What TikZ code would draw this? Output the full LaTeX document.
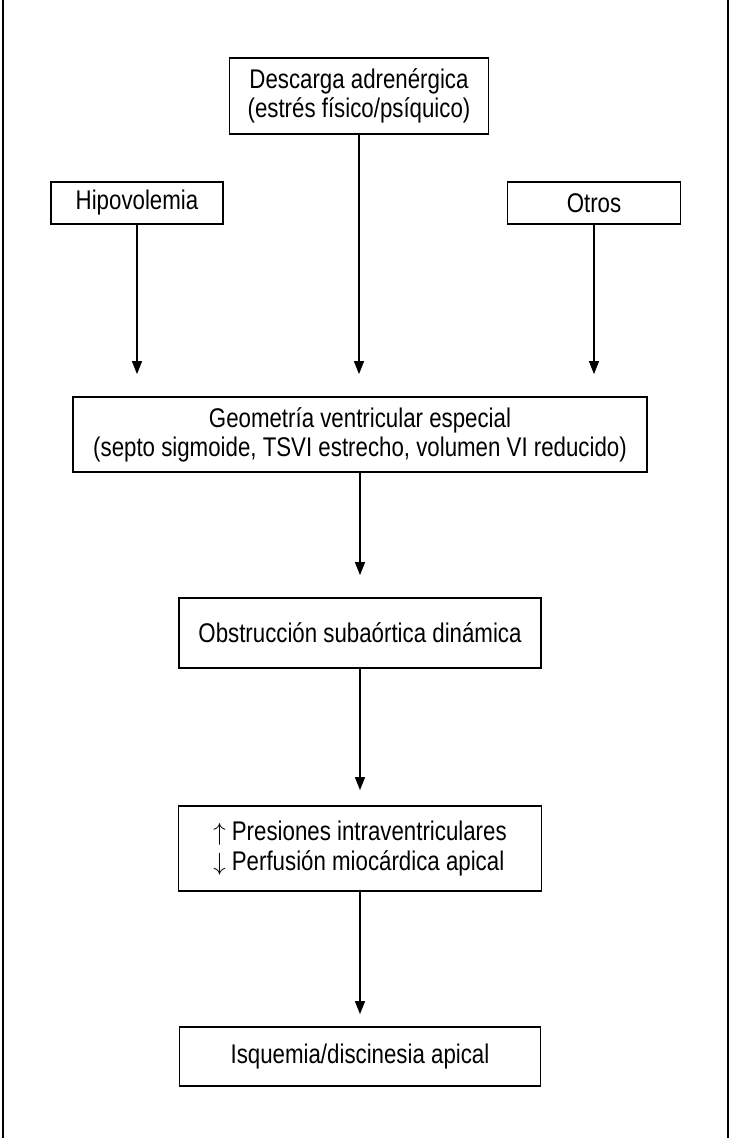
\documentclass[tikz,border=0pt]{standalone}
\usepackage{fontspec}
\setmainfont{Liberation Sans}[FakeStretch=0.825]
\usetikzlibrary{arrows.meta}

\begin{document}
\begin{tikzpicture}[x=1pt, y=-1pt,
  box/.style={draw, line width=1.7pt, inner sep=0pt, align=center,
    font=\fontsize{27}{29}\selectfont},
  arr/.style={line width=1.2pt, -{Triangle[length=13pt,width=10pt]}}]
\useasboundingbox (0,0) rectangle (730,1138);

% frame
\draw[line width=1.7pt] (3,0) -- (3,1138);
\draw[line width=1.7pt] (728,0) -- (728,1138);

\node[box, minimum width=259pt, minimum height=76pt] (desc) at (359,96)
  {Descarga adrenérgica\\(estrés físico/psíquico)};
\node[box, minimum width=172pt, minimum height=42pt] (hipo) at (137,203) {Hipovolemia};
\node[box, minimum width=173pt, minimum height=42pt] (otros) at (594,203) {Otros};
\node[box, minimum width=574pt, minimum height=75pt] (geom) at (360,434.5)
  {Geometría ventricular especial\\(septo sigmoide, TSVI estrecho, volumen VI reducido)};
\node[box, minimum width=362pt, minimum height=70pt] (obst) at (360,633)
  {Obstrucción subaórtica dinámica};
\node[box, minimum width=363pt, minimum height=85pt, align=left] (pres) at (360,848.5)
  {$\uparrow$ Presiones intraventriculares\\[1pt]$\downarrow$ Perfusión miocárdica apical};
\node[box, minimum width=361pt, minimum height=59pt] (isq) at (360,1056.5)
  {Isquemia/discinesia apical};

\draw[arr, shorten >=22pt] (hipo) -- (hipo |- geom.north);
\draw[arr, shorten >=22pt] (desc) -- (desc |- geom.north);
\draw[arr, shorten >=22pt] (otros) -- (otros |- geom.north);
\draw[arr, shorten >=22pt] (geom) -- (obst);
\draw[arr, shorten >=15pt] (obst) -- (pres);
\draw[arr, shorten >=12pt] (pres) -- (isq);

\end{tikzpicture}
\end{document}
